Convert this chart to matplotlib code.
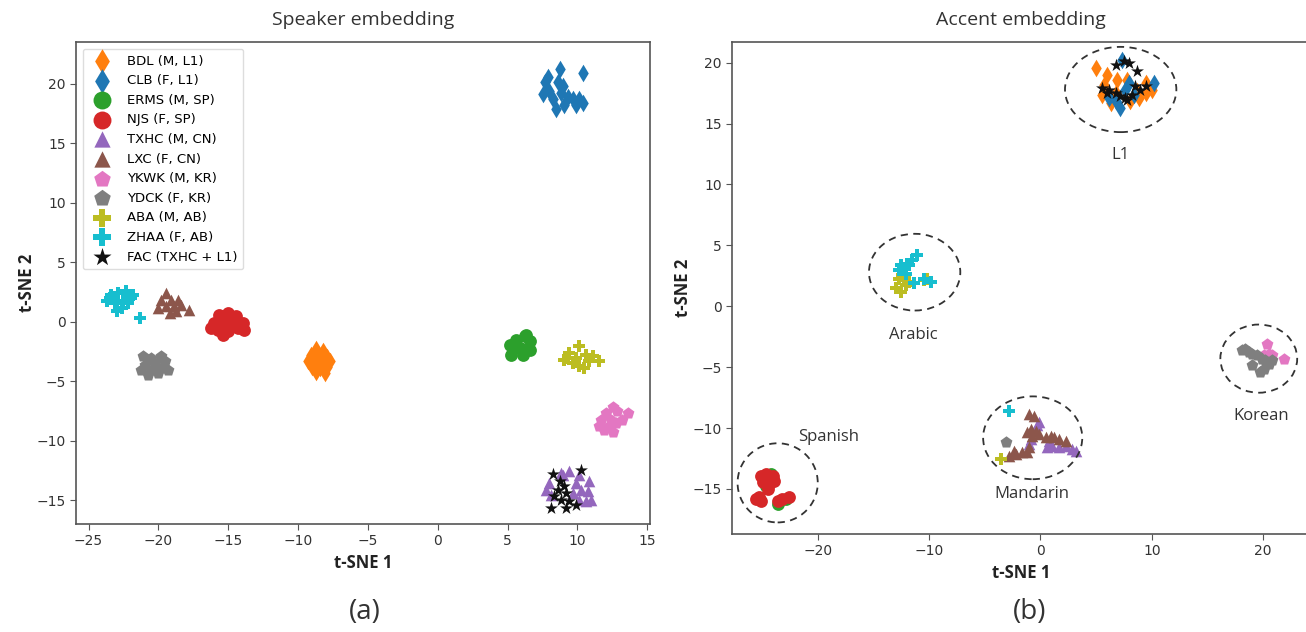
import matplotlib
matplotlib.use("Agg")
import matplotlib.pyplot as plt
from matplotlib.patches import Ellipse

# ---------------- data ----------------
speakers = ["BDL (M, L1)", "CLB (F, L1)", "ERMS (M, SP)", "NJS (F, SP)", "TXHC (M, CN)",
            "LXC (F, CN)", "YKWK (M, KR)", "YDCK (F, KR)", "ABA (M, AB)", "ZHAA (F, AB)",
            "FAC (TXHC + L1)"]
colors = ["#ff7f0e", "#1f77b4", "#2ca02c", "#d62728", "#9467bd", "#8c564b",
          "#e377c2", "#7f7f7f", "#bcbd22", "#17becf", "#111111"]
markers = ["d", "d", "o", "o", "^", "^", "p", "p", "P", "P", "*"]

# Left panel: speaker embedding
spk_bdl = [(-8.7, -2.3), (-8.2, -2.5), (-9.1, -2.8), (-8.5, -2.9), (-7.9, -3.0), (-9.3, -3.3),
           (-8.8, -3.4), (-8.2, -3.5), (-7.7, -3.3), (-9.0, -3.8), (-8.4, -3.9), (-7.9, -3.8),
           (-8.7, -4.2), (-8.1, -4.3)]
spk_clb = [(8.72, 21.2), (10.38, 20.9), (7.88, 20.6), (7.65, 20.1), (8.6, 20.1), (8.95, 19.8),
           (7.53, 19.1), (8.0, 19.35), (8.84, 19.2), (9.31, 18.9), (9.67, 18.7), (10.14, 18.7),
           (8.24, 18.7), (9.07, 18.2), (9.9, 18.2), (10.38, 18.4), (8.48, 17.9)]
spk_erms = [(5.15, -1.93), (5.63, -1.51), (6.22, -1.23), (6.58, -1.65), (5.87, -2.21),
            (5.27, -2.77), (6.1, -2.77), (6.58, -2.35), (6.34, -1.09), (5.51, -2.07)]
spk_njs = [(-15.64, 0.59), (-15.04, 0.73), (-14.45, 0.45), (-15.99, -0.11), (-15.28, 0.03),
           (-14.68, -0.11), (-13.97, -0.11), (-15.75, -0.67), (-15.04, -0.81), (-14.33, -0.53),
           (-15.4, -1.09), (-16.23, -0.53), (-13.86, -0.67)]
spk_txhc = [(8.84, -12.72), (9.43, -12.58), (10.14, -12.86), (8.0, -13.55), (7.77, -14.12),
            (9.9, -13.55), (10.85, -13.42), (10.26, -14.12), (10.73, -14.26), (8.12, -14.54),
            (10.62, -15.1), (10.98, -14.96), (8.95, -12.86), (9.67, -14.4), (10.14, -14.96)]
spk_lxc = [(-19.44, 2.41), (-19.79, 1.85), (-19.08, 1.85), (-18.6, 1.85), (-20.03, 1.15),
           (-19.44, 1.29), (-18.85, 1.29), (-18.37, 1.43), (-17.78, 1.01), (-19.2, 0.73),
           (-18.72, 0.87)]
spk_ykwk = [(12.52, -7.17), (12.05, -7.67), (12.87, -7.54), (13.59, -7.67), (11.69, -8.24),
            (12.4, -8.24), (13.23, -8.24), (11.57, -8.8), (12.28, -8.8), (12.76, -8.51),
            (12.52, -9.24), (11.92, -9.08)]
spk_ydck = [(-21.1, -2.91), (-20.5, -3.05), (-19.79, -2.91), (-20.98, -3.61), (-20.27, -3.47),
            (-19.56, -3.33), (-21.22, -4.03), (-20.5, -4.03), (-19.79, -3.89), (-20.74, -4.45),
            (-20.03, -4.31), (-19.32, -4.03)]
spk_aba = [(10.14, -2.07), (9.43, -2.63), (9.07, -3.19), (9.9, -3.05), (10.62, -2.77),
           (10.85, -3.33), (11.57, -3.33), (10.14, -3.75), (9.67, -3.47), (10.5, -3.89),
           (11.09, -2.91), (9.31, -3.05)]
spk_zhaa = [(-23.71, 1.71), (-23.36, 2.27), (-22.88, 2.41), (-22.29, 2.55), (-21.93, 1.99),
            (-23.12, 1.57), (-22.52, 1.71), (-22.17, 1.57), (-23.0, 0.87), (-22.64, 1.15),
            (-21.34, 0.31), (-23.48, 1.99), (-21.81, 2.27)]
spk_fac = [(8.24, -12.77), (10.26, -12.49), (8.72, -13.42), (9.07, -13.84), (8.6, -14.12),
           (9.19, -14.4), (8.84, -14.96), (8.12, -15.66), (9.19, -15.66), (9.9, -15.38),
           (8.36, -14.68), (9.43, -15.1)]

# Right panel: accent embedding
acc_bdl = [(4.94, 19.56), (5.98, 19.01), (6.88, 18.6), (5.53, 17.37), (6.29, 16.68), (7.78, 18.6),
           (8.67, 17.64), (9.43, 18.33), (10.02, 17.78), (5.69, 18.19), (6.74, 17.5),
           (8.08, 16.82), (9.43, 17.5), (8.83, 17.09)]
acc_clb = [(7.33, 20.25), (7.93, 18.33), (7.18, 16.27), (6.13, 17.09), (8.38, 17.37),
           (10.17, 18.33), (7.63, 17.78), (6.74, 16.82)]
acc_erms = [(-24.21, -13.77), (-23.61, -16.24), (-22.86, -15.83), (-24.66, -14.73)]
acc_njs = [(-25.1, -13.9), (-24.66, -13.77), (-24.06, -13.91), (-24.96, -14.46), (-24.36, -14.59),
           (-23.91, -14.32), (-24.51, -15.0), (-24.81, -14.18), (-24.21, -14.05), (-25.55, -15.83),
           (-25.1, -15.97), (-23.61, -15.97), (-23.17, -15.83), (-22.57, -15.69), (-25.26, -15.69)]
acc_txhc = [(-0.14, -9.52), (-0.3, -9.79), (-0.89, -10.89), (-1.04, -11.3), (0.75, -11.03),
            (0.6, -11.58), (1.05, -11.44), (1.65, -11.58), (2.25, -11.44), (2.84, -11.71),
            (3.15, -11.85)]
acc_lxc = [(-1.04, -8.83), (-0.59, -8.97), (-0.89, -10.07), (-1.19, -10.35), (-0.44, -10.21),
           (-0.14, -10.48), (-0.74, -10.62), (0.91, -10.62), (1.2, -10.76), (1.65, -10.89),
           (2.25, -11.03), (0.46, -10.76), (-1.64, -11.99), (-2.23, -12.12), (-2.83, -12.26),
           (-2.39, -11.85), (-1.19, -11.99), (-1.04, -11.58)]
acc_ykwk = [(20.33, -3.07), (20.48, -3.89), (20.78, -4.03), (21.83, -4.3), (20.63, -4.3),
            (20.04, -4.03)]
acc_ydck = [(18.39, -3.48), (18.69, -3.76), (18.99, -3.9), (19.43, -4.03), (19.88, -4.3),
            (20.19, -4.44), (20.48, -4.72), (20.78, -4.44), (18.99, -4.86), (19.74, -5.41),
            (20.04, -5.13), (18.09, -3.62), (-3.13, -11.17)]
acc_aba = [(-12.7, 2.28), (-12.25, 2.14), (-11.8, 2.0), (-13.0, 1.46), (-12.55, 1.18),
           (-10.46, 2.14), (-10.16, 2.28), (-12.4, 2.55), (-12.1, 1.73), (-3.58, -12.54)]
acc_zhaa = [(-11.06, 4.2), (-11.51, 3.79), (-11.8, 3.37), (-12.25, 3.1), (-12.55, 3.37),
            (-12.1, 2.69), (-12.7, 2.96), (-11.35, 1.87), (-9.86, 2.0), (-10.46, 2.28),
            (-11.95, 3.51), (-2.83, -8.56)]
acc_fac = [(6.74, 19.84), (7.48, 20.11), (7.93, 19.97), (8.67, 19.29), (5.53, 17.92),
           (6.13, 17.78), (6.74, 17.5), (7.18, 17.23), (7.63, 17.09), (8.23, 17.37),
           (8.53, 18.05), (8.98, 17.78), (9.43, 18.05), (7.78, 16.95), (5.98, 17.5)]

# accent groups: name, center x, center y, width, height, label x, label y
groups = ["L1", "Arabic", "Mandarin", "Spanish", "Korean"]
group_cx = [7.2, -11.3, -0.7, -23.6, 19.6]
group_cy = [17.8, 2.8, -10.8, -14.5, -4.3]
group_w = [10.0, 8.2, 8.9, 7.2, 6.9]
group_h = [7.0, 6.3, 6.8, 6.5, 5.6]
label_x = [7.2, -11.4, -0.8, -19.0, 19.8]
label_y = [12.4, -2.4, -15.4, -10.7, -9.0]

spk_sets = [spk_bdl, spk_clb, spk_erms, spk_njs, spk_txhc, spk_lxc, spk_ykwk, spk_ydck,
            spk_aba, spk_zhaa, spk_fac]
acc_sets = [acc_bdl, acc_clb, acc_erms, acc_njs, acc_txhc, acc_lxc, acc_ykwk, acc_ydck,
            acc_aba, acc_zhaa, acc_fac]

# ---------------- plot ----------------
plt.rcParams['font.family'] = ['DejaVu Sans']
fig = plt.figure(figsize=(13.06, 6.32), dpi=100)
ax1 = fig.add_axes([76 / 1306, 1 - 524 / 632, (650 - 76) / 1306, (524 - 42) / 632])
ax2 = fig.add_axes([732 / 1306, 1 - 534 / 632, (1310 - 732) / 1306, (534 - 42) / 632])

sizes = {"d": 80, "o": 85, "^": 70, "p": 80, "P": 80, "*": 95}

for ax, sets in ((ax1, spk_sets), (ax2, acc_sets)):
    for name, pts, c, m in zip(speakers, sets, colors, markers):
        xs = [p[0] for p in pts]
        ys = [p[1] for p in pts]
        ax.scatter(xs, ys, c=c, marker=m, s=sizes[m], linewidths=0, label=name)
    for sp in ax.spines.values():
        sp.set_color("#555555")
        sp.set_linewidth(1.2)
    ax.tick_params(colors="#333333", labelsize=10, length=4, color="#555555")

lab_font = dict(family="Open Sans", fontsize=12, fontweight="bold", color="#222222")
ax1.set_xlim(-25.9, 15.2)
ax1.set_ylim(-17.0, 23.5)
ax1.set_xticks([-25, -20, -15, -10, -5, 0, 5, 10, 15])
ax1.set_yticks([-15, -10, -5, 0, 5, 10, 15, 20])
ax1.set_xlabel("t-SNE 1", labelpad=4, **lab_font)
ax1.set_ylabel("t-SNE 2", labelpad=0, **lab_font)
ax1.set_title("Speaker embedding", family="Open Sans", fontsize=14, color="#333333", pad=12)
leg = ax1.legend(loc="upper left", fontsize=9.5, markerscale=1.4, handletextpad=0.9,
                 labelspacing=0.5, borderpad=0.45, framealpha=1, edgecolor="#dddddd")

ax2.set_xlim(-27.7, 24.2)
ax2.set_ylim(-18.7, 21.7)
ax2.set_xticks([-20, -10, 0, 10, 20])
ax2.set_yticks([-15, -10, -5, 0, 5, 10, 15, 20])
ax2.spines["right"].set_visible(False)
ax2.set_xlabel("t-SNE 1", labelpad=4, **lab_font)
ax2.set_ylabel("t-SNE 2", labelpad=0, **lab_font)
ax2.set_title("Accent embedding", family="Open Sans", fontsize=14, color="#333333", pad=12)

for g, cx, cy, w, h, lx, ly in zip(groups, group_cx, group_cy, group_w, group_h, label_x, label_y):
    ax2.add_patch(Ellipse((cx, cy), w, h, fill=False, ls=(0, (4, 3)), lw=1.3, ec="#333333"))
    ax2.text(lx, ly, g, ha="center", va="center", family="Open Sans", fontsize=12, color="#333333")

fig.text(365 / 1306, 1 - 612 / 632, "(a)", ha="center", va="center", family="Open Sans",
         fontsize=20, color="#333333")
fig.text(1030 / 1306, 1 - 612 / 632, "(b)", ha="center", va="center", family="Open Sans",
         fontsize=20, color="#333333")

fig.savefig("out.png", dpi=100)
